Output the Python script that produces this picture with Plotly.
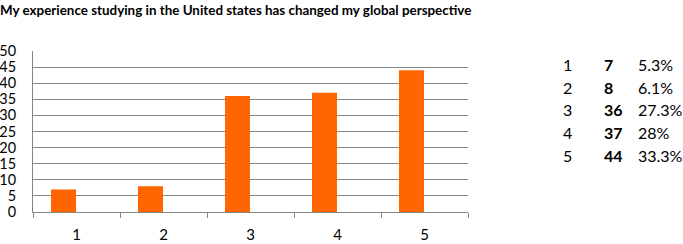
import plotly.graph_objects as go

categories = ["1", "2", "3", "4", "5"]
counts = [7, 8, 36, 37, 44]
percents = ["5.3%", "6.1%", "27.3%", "28%", "33.3%"]
title_text = "My experience studying in the United states has changed my global perspective"
y_ticks = [0, 5, 10, 15, 20, 25, 30, 35, 40, 45, 50]

W, H = 683, 244
L, R, T, B = 33, 215, 51, 32
pw = W - L - R
ph = H - T - B

fig = go.Figure(go.Bar(x=categories, y=counts, width=0.287, offset=-0.293,
                       marker=dict(color="#FF6600", line=dict(width=0))))

fig.update_layout(
    width=W, height=H,
    margin=dict(l=L, r=R, t=T, b=B, pad=0),
    paper_bgcolor="white", plot_bgcolor="white",
    showlegend=False,
    title=dict(text="<b>" + title_text + "</b>", x=0, xref="container", xanchor="left",
               y=1 - 10 / H, yref="container", yanchor="middle",
               font=dict(family="Lato", size=13.4, color="#000000")),
)
fig.update_xaxes(type="category", tickson="boundaries", ticks="outside", ticklen=5,
                 tickcolor="#868686", showline=True, linecolor="#868686", linewidth=1,
                 showgrid=False, tickfont=dict(family="Lato", size=15, color="#000000"),
                 ticklabelstandoff=9, automargin=False)
fig.update_yaxes(range=[0, 50], tickvals=y_ticks, showgrid=True, gridcolor="#868686", gridwidth=1,
                 showline=True, linecolor="#868686", linewidth=1, ticks="", zeroline=False,
                 tickfont=dict(family="Lato", size=14.5, color="#000000"),
                 ticklabelstandoff=13, automargin=False)

row_y = [65, 87, 109, 132, 155]
for cat, c, p, yy in zip(categories, counts, percents, row_y):
    yp = 1 - (yy - T) / ph
    for xx, txt in [(561, cat), (602, "<b>" + str(c) + "</b>"), (636, p)]:
        fig.add_annotation(x=(xx - L) / pw, y=yp, xref="paper", yref="paper", text=txt,
                           showarrow=False, xanchor="left", yanchor="middle",
                           font=dict(family="Lato", size=16, color="#000000"))

fig.write_html("out.html", config={"displayModeBar": False},
               post_script="document.body.style.margin='0';document.body.style.overflow='hidden';")
